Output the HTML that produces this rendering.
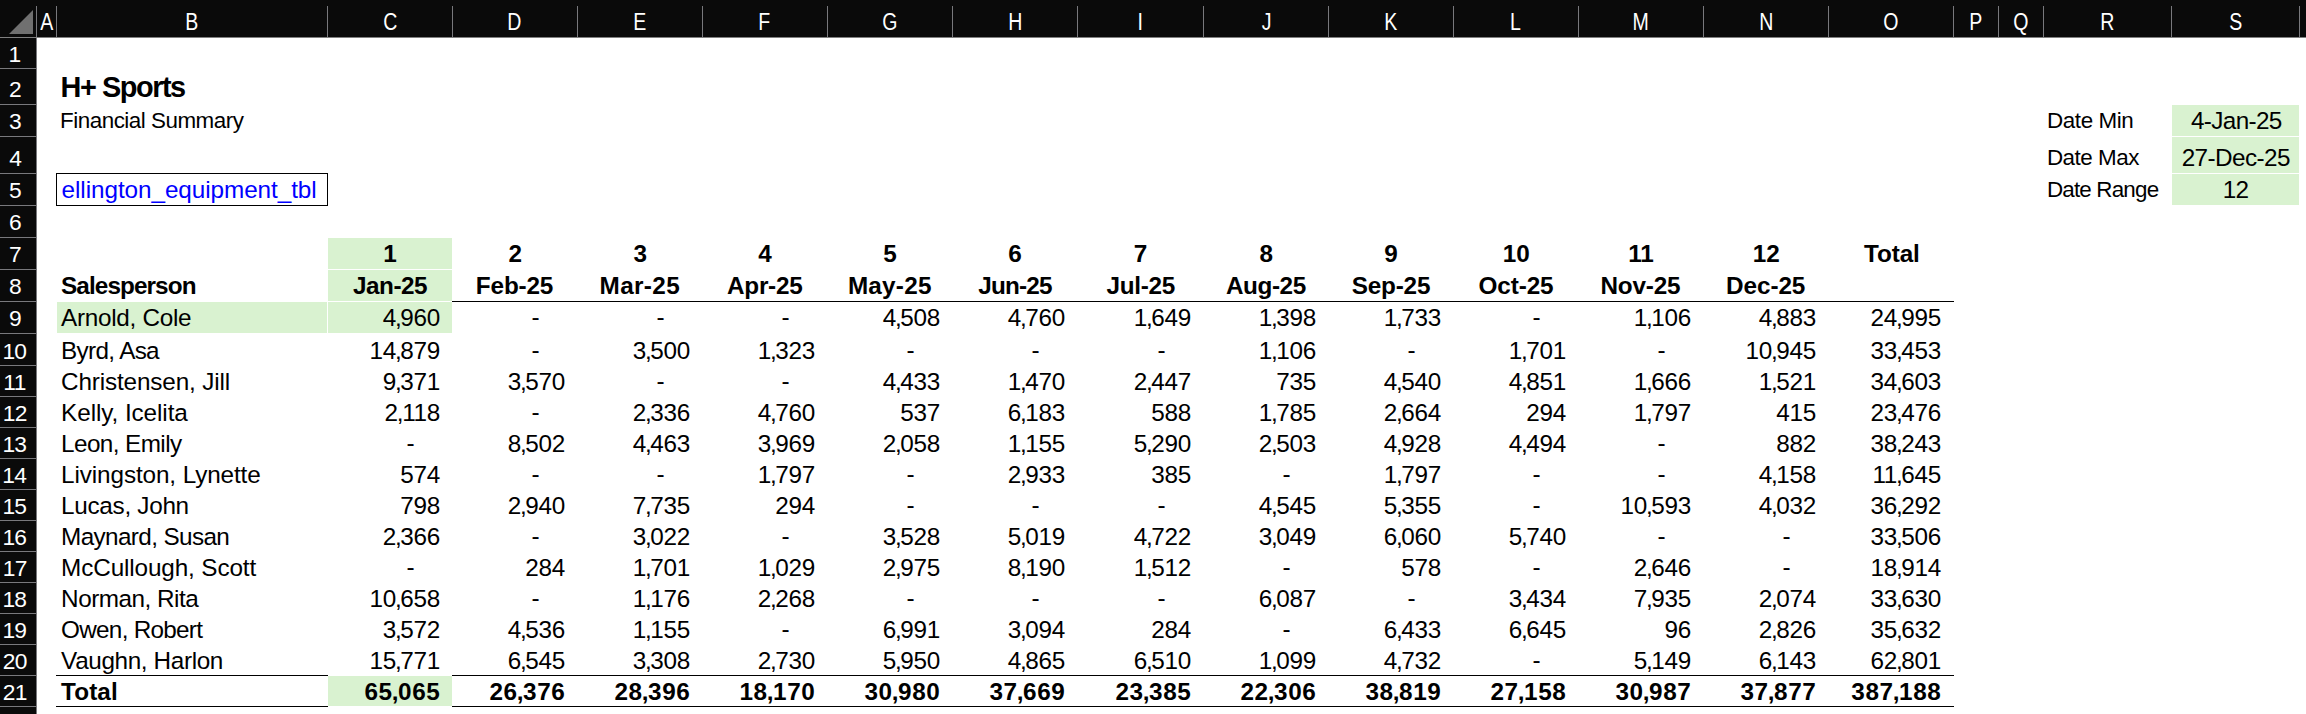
<!DOCTYPE html>
<html><head><meta charset="utf-8"><title>sheet</title>
<style>
html,body{margin:0;padding:0;background:#fff}
#s{position:relative;width:2306px;height:714px;overflow:hidden;background:#fff;font-family:"Liberation Sans",sans-serif;color:#000}
.r{position:absolute;box-sizing:border-box}
.t{position:absolute;white-space:nowrap;margin:0;padding:0}
.t i{font-style:normal;margin:0 -1.1px 0 -1px}
</style></head><body><div id="s">
<div class="r" style="left:0px;top:0px;width:2306px;height:37px;background:#0a0a0a"></div>
<div class="r" style="left:0px;top:37px;width:2306px;height:1px;background:#808080"></div>
<div class="r" style="left:0px;top:38px;width:36px;height:676px;background:#0a0a0a"></div>
<div class="r" style="left:36px;top:38px;width:1px;height:676px;background:#78787c"></div>
<div class="r" style="left:36px;top:6px;width:1px;height:31px;background:#78787c"></div>
<div class="r" style="left:56px;top:6px;width:1px;height:31px;background:#78787c"></div>
<div class="r" style="left:327px;top:6px;width:1px;height:31px;background:#78787c"></div>
<div class="r" style="left:452px;top:6px;width:1px;height:31px;background:#78787c"></div>
<div class="r" style="left:577px;top:6px;width:1px;height:31px;background:#78787c"></div>
<div class="r" style="left:702px;top:6px;width:1px;height:31px;background:#78787c"></div>
<div class="r" style="left:827px;top:6px;width:1px;height:31px;background:#78787c"></div>
<div class="r" style="left:952px;top:6px;width:1px;height:31px;background:#78787c"></div>
<div class="r" style="left:1077px;top:6px;width:1px;height:31px;background:#78787c"></div>
<div class="r" style="left:1203px;top:6px;width:1px;height:31px;background:#78787c"></div>
<div class="r" style="left:1328px;top:6px;width:1px;height:31px;background:#78787c"></div>
<div class="r" style="left:1453px;top:6px;width:1px;height:31px;background:#78787c"></div>
<div class="r" style="left:1578px;top:6px;width:1px;height:31px;background:#78787c"></div>
<div class="r" style="left:1703px;top:6px;width:1px;height:31px;background:#78787c"></div>
<div class="r" style="left:1828px;top:6px;width:1px;height:31px;background:#78787c"></div>
<div class="r" style="left:1953px;top:6px;width:1px;height:31px;background:#78787c"></div>
<div class="r" style="left:1998px;top:6px;width:1px;height:31px;background:#78787c"></div>
<div class="r" style="left:2043px;top:6px;width:1px;height:31px;background:#78787c"></div>
<div class="r" style="left:2171px;top:6px;width:1px;height:31px;background:#78787c"></div>
<div class="r" style="left:2299px;top:6px;width:1px;height:31px;background:#78787c"></div>
<div class="r" style="left:0px;top:68px;width:36px;height:1px;background:#78787c"></div>
<div class="r" style="left:0px;top:104px;width:36px;height:1px;background:#78787c"></div>
<div class="r" style="left:0px;top:136px;width:36px;height:1px;background:#78787c"></div>
<div class="r" style="left:0px;top:173px;width:36px;height:1px;background:#78787c"></div>
<div class="r" style="left:0px;top:205px;width:36px;height:1px;background:#78787c"></div>
<div class="r" style="left:0px;top:237px;width:36px;height:1px;background:#78787c"></div>
<div class="r" style="left:0px;top:269px;width:36px;height:1px;background:#78787c"></div>
<div class="r" style="left:0px;top:301px;width:36px;height:1px;background:#78787c"></div>
<div class="r" style="left:0px;top:333px;width:36px;height:1px;background:#78787c"></div>
<div class="r" style="left:0px;top:365px;width:36px;height:1px;background:#78787c"></div>
<div class="r" style="left:0px;top:396px;width:36px;height:1px;background:#78787c"></div>
<div class="r" style="left:0px;top:427px;width:36px;height:1px;background:#78787c"></div>
<div class="r" style="left:0px;top:458px;width:36px;height:1px;background:#78787c"></div>
<div class="r" style="left:0px;top:489px;width:36px;height:1px;background:#78787c"></div>
<div class="r" style="left:0px;top:520px;width:36px;height:1px;background:#78787c"></div>
<div class="r" style="left:0px;top:551px;width:36px;height:1px;background:#78787c"></div>
<div class="r" style="left:0px;top:582px;width:36px;height:1px;background:#78787c"></div>
<div class="r" style="left:0px;top:613px;width:36px;height:1px;background:#78787c"></div>
<div class="r" style="left:0px;top:644px;width:36px;height:1px;background:#78787c"></div>
<div class="r" style="left:0px;top:675px;width:36px;height:1px;background:#78787c"></div>
<div class="r" style="left:0px;top:706px;width:36px;height:1px;background:#78787c"></div>
<div class="r" style="left:0px;top:737px;width:36px;height:1px;background:#78787c"></div>
<svg class="r" style="left:0;top:0" width="37" height="37"><polygon points="33,10 33,34 9,34" fill="#707070"/></svg>
<div class="r" style="left:328px;top:238px;width:124px;height:31px;background:#d9f2d0"></div>
<div class="r" style="left:328px;top:270px;width:124px;height:31px;background:#d9f2d0"></div>
<div class="r" style="left:328px;top:302px;width:124px;height:31px;background:#d9f2d0"></div>
<div class="r" style="left:328px;top:676px;width:124px;height:30px;background:#d9f2d0"></div>
<div class="r" style="left:57px;top:302px;width:270px;height:31px;background:#d9f2d0"></div>
<div class="r" style="left:2172px;top:105px;width:127px;height:31px;background:#d9f2d0"></div>
<div class="r" style="left:2172px;top:137px;width:127px;height:36px;background:#d9f2d0"></div>
<div class="r" style="left:2172px;top:174px;width:127px;height:31px;background:#d9f2d0"></div>
<div class="r" style="left:452px;top:301px;width:1502px;height:1px;background:#000"></div>
<div class="r" style="left:56px;top:675px;width:272px;height:1px;background:#000"></div>
<div class="r" style="left:452px;top:675px;width:1502px;height:1px;background:#000"></div>
<div class="r" style="left:56px;top:706px;width:272px;height:1px;background:#000"></div>
<div class="r" style="left:452px;top:706px;width:1502px;height:1px;background:#000"></div>
<div class="r" style="left:56px;top:173px;width:272px;height:33px;border:1px solid #000"></div>
<div class="t" style="top:7.73px;font-size:23.0px;line-height:29px;transform:scaleX(0.85);transform-origin:7.61px 50%;left:38.89px;color:#fff;">A</div>
<div class="t" style="top:7.73px;font-size:23.0px;line-height:29px;transform:scaleX(0.85);transform-origin:8.04px 50%;left:183.96px;color:#fff;">B</div>
<div class="t" style="top:7.73px;font-size:23.0px;line-height:29px;transform:scaleX(0.85);transform-origin:8.48px 50%;left:381.52px;color:#fff;">C</div>
<div class="t" style="top:7.73px;font-size:23.0px;line-height:29px;transform:scaleX(0.85);transform-origin:8.92px 50%;left:506.08px;color:#fff;">D</div>
<div class="t" style="top:7.73px;font-size:23.0px;line-height:29px;transform:scaleX(0.85);transform-origin:8.42px 50%;left:631.58px;color:#fff;">E</div>
<div class="t" style="top:7.73px;font-size:23.0px;line-height:29px;transform:scaleX(0.85);transform-origin:7.54px 50%;left:757.46px;color:#fff;">F</div>
<div class="t" style="top:7.73px;font-size:23.0px;line-height:29px;transform:scaleX(0.85);transform-origin:8.62px 50%;left:881.38px;color:#fff;">G</div>
<div class="t" style="top:7.73px;font-size:23.0px;line-height:29px;transform:scaleX(0.85);transform-origin:8.45px 50%;left:1006.55px;color:#fff;">H</div>
<div class="t" style="top:7.73px;font-size:23.0px;line-height:29px;transform:scaleX(0.85);transform-origin:3.15px 50%;left:1137.35px;color:#fff;">I</div>
<div class="t" style="top:7.73px;font-size:23.0px;line-height:29px;transform:scaleX(0.85);transform-origin:5.37px 50%;left:1260.63px;color:#fff;">J</div>
<div class="t" style="top:7.73px;font-size:23.0px;line-height:29px;transform:scaleX(0.85);transform-origin:8.45px 50%;left:1382.55px;color:#fff;">K</div>
<div class="t" style="top:7.73px;font-size:23.0px;line-height:29px;transform:scaleX(0.85);transform-origin:7.01px 50%;left:1508.99px;color:#fff;">L</div>
<div class="t" style="top:7.73px;font-size:23.0px;line-height:29px;transform:scaleX(0.85);transform-origin:9.60px 50%;left:1631.40px;color:#fff;">M</div>
<div class="t" style="top:7.73px;font-size:23.0px;line-height:29px;transform:scaleX(0.85);transform-origin:8.45px 50%;left:1757.55px;color:#fff;">N</div>
<div class="t" style="top:7.73px;font-size:23.0px;line-height:29px;transform:scaleX(0.85);transform-origin:9.00px 50%;left:1882.00px;color:#fff;">O</div>
<div class="t" style="top:7.73px;font-size:23.0px;line-height:29px;transform:scaleX(0.85);transform-origin:8.04px 50%;left:1967.96px;color:#fff;">P</div>
<div class="t" style="top:7.73px;font-size:23.0px;line-height:29px;transform:scaleX(0.85);transform-origin:9.00px 50%;left:2012.00px;color:#fff;">Q</div>
<div class="t" style="top:7.73px;font-size:23.0px;line-height:29px;transform:scaleX(0.85);transform-origin:8.59px 50%;left:2098.91px;color:#fff;">R</div>
<div class="t" style="top:7.73px;font-size:23.0px;line-height:29px;transform:scaleX(0.85);transform-origin:7.66px 50%;left:2227.84px;color:#fff;">S</div>
<div class="t" style="top:40.10px;font-size:22.8px;line-height:28px;left:8.52px;letter-spacing:-0.700px;color:#fff;">1</div>
<div class="t" style="top:75.10px;font-size:22.8px;line-height:28px;left:8.92px;letter-spacing:-0.700px;color:#fff;">2</div>
<div class="t" style="top:107.10px;font-size:22.8px;line-height:28px;left:8.93px;letter-spacing:-0.700px;color:#fff;">3</div>
<div class="t" style="top:144.10px;font-size:22.8px;line-height:28px;left:9.31px;letter-spacing:-0.700px;color:#fff;">4</div>
<div class="t" style="top:176.10px;font-size:22.8px;line-height:28px;left:8.91px;letter-spacing:-0.700px;color:#fff;">5</div>
<div class="t" style="top:208.10px;font-size:22.8px;line-height:28px;left:8.92px;letter-spacing:-0.700px;color:#fff;">6</div>
<div class="t" style="top:240.10px;font-size:22.8px;line-height:28px;left:8.92px;letter-spacing:-0.700px;color:#fff;">7</div>
<div class="t" style="top:272.10px;font-size:22.8px;line-height:28px;left:8.93px;letter-spacing:-0.700px;color:#fff;">8</div>
<div class="t" style="top:304.10px;font-size:22.8px;line-height:28px;left:8.93px;letter-spacing:-0.700px;color:#fff;">9</div>
<div class="t" style="top:337.10px;font-size:22.8px;line-height:28px;left:2.38px;letter-spacing:-0.700px;color:#fff;">10</div>
<div class="t" style="top:368.10px;font-size:22.8px;line-height:28px;left:3.37px;letter-spacing:-0.700px;color:#fff;">11</div>
<div class="t" style="top:399.10px;font-size:22.8px;line-height:28px;left:2.69px;letter-spacing:-0.700px;color:#fff;">12</div>
<div class="t" style="top:430.10px;font-size:22.8px;line-height:28px;left:2.38px;letter-spacing:-0.700px;color:#fff;">13</div>
<div class="t" style="top:461.10px;font-size:22.8px;line-height:28px;left:2.35px;letter-spacing:-0.700px;color:#fff;">14</div>
<div class="t" style="top:492.10px;font-size:22.8px;line-height:28px;left:2.38px;letter-spacing:-0.700px;color:#fff;">15</div>
<div class="t" style="top:523.10px;font-size:22.8px;line-height:28px;left:2.38px;letter-spacing:-0.700px;color:#fff;">16</div>
<div class="t" style="top:554.10px;font-size:22.8px;line-height:28px;left:2.69px;letter-spacing:-0.700px;color:#fff;">17</div>
<div class="t" style="top:585.10px;font-size:22.8px;line-height:28px;left:2.38px;letter-spacing:-0.700px;color:#fff;">18</div>
<div class="t" style="top:616.10px;font-size:22.8px;line-height:28px;left:2.38px;letter-spacing:-0.700px;color:#fff;">19</div>
<div class="t" style="top:647.10px;font-size:22.8px;line-height:28px;left:2.78px;letter-spacing:-0.700px;color:#fff;">20</div>
<div class="t" style="top:678.10px;font-size:22.8px;line-height:28px;left:2.78px;letter-spacing:-0.700px;color:#fff;">21</div>
<div class="t" style="top:68.99px;font-size:28.9px;line-height:36px;left:60.62px;letter-spacing:-1.468px;font-weight:bold;">H+ Sports</div>
<div class="t" style="top:107.24px;font-size:22.4px;line-height:28px;left:60.10px;letter-spacing:-0.488px;">Financial Summary</div>
<div class="t" style="top:174.58px;font-size:24.3px;line-height:30px;left:61.59px;letter-spacing:-0.071px;color:#0000ff;">ellington_equipment_tbl</div>
<div class="t" style="top:107.24px;font-size:22.4px;line-height:28px;left:2047.10px;letter-spacing:-0.437px;">Date Min</div>
<div class="t" style="top:144.24px;font-size:22.4px;line-height:28px;left:2046.90px;letter-spacing:-0.464px;">Date Max</div>
<div class="t" style="top:176.24px;font-size:22.4px;line-height:28px;left:2046.90px;letter-spacing:-0.812px;">Date Range</div>
<div class="t" style="top:105.58px;font-size:24.3px;line-height:30px;left:2190.95px;letter-spacing:-0.636px;">4-Jan-25</div>
<div class="t" style="top:142.58px;font-size:24.3px;line-height:30px;left:2181.64px;letter-spacing:-0.581px;">27-Dec-25</div>
<div class="t" style="top:174.58px;font-size:24.3px;line-height:30px;left:2222.76px;letter-spacing:-0.800px;">12</div>
<div class="t" style="top:238.58px;font-size:24.3px;line-height:30px;left:383.25px;font-weight:bold;">1</div>
<div class="t" style="top:270.58px;font-size:24.3px;line-height:30px;left:353.00px;letter-spacing:-0.481px;font-weight:bold;">Jan-25</div>
<div class="t" style="top:238.58px;font-size:24.3px;line-height:30px;left:508.39px;font-weight:bold;">2</div>
<div class="t" style="top:270.58px;font-size:24.3px;line-height:30px;left:475.84px;letter-spacing:-0.152px;font-weight:bold;">Feb-25</div>
<div class="t" style="top:238.58px;font-size:24.3px;line-height:30px;left:633.42px;font-weight:bold;">3</div>
<div class="t" style="top:270.58px;font-size:24.3px;line-height:30px;left:599.59px;letter-spacing:0.348px;font-weight:bold;">Mar-25</div>
<div class="t" style="top:238.58px;font-size:24.3px;line-height:30px;left:758.30px;font-weight:bold;">4</div>
<div class="t" style="top:270.58px;font-size:24.3px;line-height:30px;left:727.08px;letter-spacing:-0.266px;font-weight:bold;">Apr-25</div>
<div class="t" style="top:238.58px;font-size:24.3px;line-height:30px;left:883.34px;font-weight:bold;">5</div>
<div class="t" style="top:270.58px;font-size:24.3px;line-height:30px;left:847.89px;letter-spacing:0.228px;font-weight:bold;">May-25</div>
<div class="t" style="top:238.58px;font-size:24.3px;line-height:30px;left:1008.36px;font-weight:bold;">6</div>
<div class="t" style="top:270.58px;font-size:24.3px;line-height:30px;left:978.35px;letter-spacing:-0.825px;font-weight:bold;">Jun-25</div>
<div class="t" style="top:238.58px;font-size:24.3px;line-height:30px;left:1133.84px;font-weight:bold;">7</div>
<div class="t" style="top:270.58px;font-size:24.3px;line-height:30px;left:1106.50px;letter-spacing:-0.285px;font-weight:bold;">Jul-25</div>
<div class="t" style="top:238.58px;font-size:24.3px;line-height:30px;left:1259.38px;font-weight:bold;">8</div>
<div class="t" style="top:270.58px;font-size:24.3px;line-height:30px;left:1225.98px;letter-spacing:-0.430px;font-weight:bold;">Aug-25</div>
<div class="t" style="top:238.58px;font-size:24.3px;line-height:30px;left:1384.37px;font-weight:bold;">9</div>
<div class="t" style="top:270.58px;font-size:24.3px;line-height:30px;left:1351.72px;letter-spacing:-0.187px;font-weight:bold;">Sep-25</div>
<div class="t" style="top:238.58px;font-size:24.3px;line-height:30px;left:1502.72px;font-weight:bold;">10</div>
<div class="t" style="top:270.58px;font-size:24.3px;line-height:30px;left:1478.59px;letter-spacing:-0.114px;font-weight:bold;">Oct-25</div>
<div class="t" style="top:238.58px;font-size:24.3px;line-height:30px;left:1628.18px;font-weight:bold;">11</div>
<div class="t" style="top:270.58px;font-size:24.3px;line-height:30px;left:1600.44px;letter-spacing:-0.188px;font-weight:bold;">Nov-25</div>
<div class="t" style="top:238.58px;font-size:24.3px;line-height:30px;left:1752.71px;font-weight:bold;">12</div>
<div class="t" style="top:270.58px;font-size:24.3px;line-height:30px;left:1726.04px;letter-spacing:-0.071px;font-weight:bold;">Dec-25</div>
<div class="t" style="top:238.58px;font-size:24.3px;line-height:30px;left:1863.99px;letter-spacing:-0.089px;font-weight:bold;">Total</div>
<div class="t" style="top:270.58px;font-size:24.3px;line-height:30px;left:61.02px;letter-spacing:-0.903px;font-weight:bold;">Salesperson</div>
<div class="t" style="top:302.58px;font-size:24.3px;line-height:30px;left:61.10px;letter-spacing:-0.294px;">Arnold, Cole</div>
<div class="t" style="top:302.58px;font-size:24.3px;line-height:30px;right:1866.00px;letter-spacing:-0.300px;">4<i>,</i>960</div>
<div class="t" style="top:301.58px;font-size:24.3px;line-height:30px;left:531.49px;">-</div>
<div class="t" style="top:301.58px;font-size:24.3px;line-height:30px;left:656.49px;">-</div>
<div class="t" style="top:301.58px;font-size:24.3px;line-height:30px;left:781.49px;">-</div>
<div class="t" style="top:302.58px;font-size:24.3px;line-height:30px;right:1366.00px;letter-spacing:-0.300px;">4<i>,</i>508</div>
<div class="t" style="top:302.58px;font-size:24.3px;line-height:30px;right:1241.00px;letter-spacing:-0.300px;">4<i>,</i>760</div>
<div class="t" style="top:302.58px;font-size:24.3px;line-height:30px;right:1115.00px;letter-spacing:-0.300px;">1<i>,</i>649</div>
<div class="t" style="top:302.58px;font-size:24.3px;line-height:30px;right:990.00px;letter-spacing:-0.300px;">1<i>,</i>398</div>
<div class="t" style="top:302.58px;font-size:24.3px;line-height:30px;right:865.00px;letter-spacing:-0.300px;">1<i>,</i>733</div>
<div class="t" style="top:301.58px;font-size:24.3px;line-height:30px;left:1532.49px;">-</div>
<div class="t" style="top:302.58px;font-size:24.3px;line-height:30px;right:615.00px;letter-spacing:-0.300px;">1<i>,</i>106</div>
<div class="t" style="top:302.58px;font-size:24.3px;line-height:30px;right:490.00px;letter-spacing:-0.300px;">4<i>,</i>883</div>
<div class="t" style="top:302.58px;font-size:24.3px;line-height:30px;right:365.00px;letter-spacing:-0.300px;">24<i>,</i>995</div>
<div class="t" style="top:335.58px;font-size:24.3px;line-height:30px;left:61.10px;letter-spacing:-0.681px;">Byrd, Asa</div>
<div class="t" style="top:335.58px;font-size:24.3px;line-height:30px;right:1866.00px;letter-spacing:-0.300px;">14<i>,</i>879</div>
<div class="t" style="top:334.58px;font-size:24.3px;line-height:30px;left:531.49px;">-</div>
<div class="t" style="top:335.58px;font-size:24.3px;line-height:30px;right:1616.00px;letter-spacing:-0.300px;">3<i>,</i>500</div>
<div class="t" style="top:335.58px;font-size:24.3px;line-height:30px;right:1491.00px;letter-spacing:-0.300px;">1<i>,</i>323</div>
<div class="t" style="top:334.58px;font-size:24.3px;line-height:30px;left:906.49px;">-</div>
<div class="t" style="top:334.58px;font-size:24.3px;line-height:30px;left:1031.49px;">-</div>
<div class="t" style="top:334.58px;font-size:24.3px;line-height:30px;left:1157.49px;">-</div>
<div class="t" style="top:335.58px;font-size:24.3px;line-height:30px;right:990.00px;letter-spacing:-0.300px;">1<i>,</i>106</div>
<div class="t" style="top:334.58px;font-size:24.3px;line-height:30px;left:1407.49px;">-</div>
<div class="t" style="top:335.58px;font-size:24.3px;line-height:30px;right:740.00px;letter-spacing:-0.300px;">1<i>,</i>701</div>
<div class="t" style="top:334.58px;font-size:24.3px;line-height:30px;left:1657.49px;">-</div>
<div class="t" style="top:335.58px;font-size:24.3px;line-height:30px;right:490.00px;letter-spacing:-0.300px;">10<i>,</i>945</div>
<div class="t" style="top:335.58px;font-size:24.3px;line-height:30px;right:365.00px;letter-spacing:-0.300px;">33<i>,</i>453</div>
<div class="t" style="top:366.58px;font-size:24.3px;line-height:30px;left:61.10px;letter-spacing:-0.154px;">Christensen, Jill</div>
<div class="t" style="top:366.58px;font-size:24.3px;line-height:30px;right:1866.00px;letter-spacing:-0.300px;">9<i>,</i>371</div>
<div class="t" style="top:366.58px;font-size:24.3px;line-height:30px;right:1741.00px;letter-spacing:-0.300px;">3<i>,</i>570</div>
<div class="t" style="top:365.58px;font-size:24.3px;line-height:30px;left:656.49px;">-</div>
<div class="t" style="top:365.58px;font-size:24.3px;line-height:30px;left:781.49px;">-</div>
<div class="t" style="top:366.58px;font-size:24.3px;line-height:30px;right:1366.00px;letter-spacing:-0.300px;">4<i>,</i>433</div>
<div class="t" style="top:366.58px;font-size:24.3px;line-height:30px;right:1241.00px;letter-spacing:-0.300px;">1<i>,</i>470</div>
<div class="t" style="top:366.58px;font-size:24.3px;line-height:30px;right:1115.00px;letter-spacing:-0.300px;">2<i>,</i>447</div>
<div class="t" style="top:366.58px;font-size:24.3px;line-height:30px;right:990.00px;letter-spacing:-0.300px;">735</div>
<div class="t" style="top:366.58px;font-size:24.3px;line-height:30px;right:865.00px;letter-spacing:-0.300px;">4<i>,</i>540</div>
<div class="t" style="top:366.58px;font-size:24.3px;line-height:30px;right:740.00px;letter-spacing:-0.300px;">4<i>,</i>851</div>
<div class="t" style="top:366.58px;font-size:24.3px;line-height:30px;right:615.00px;letter-spacing:-0.300px;">1<i>,</i>666</div>
<div class="t" style="top:366.58px;font-size:24.3px;line-height:30px;right:490.00px;letter-spacing:-0.300px;">1<i>,</i>521</div>
<div class="t" style="top:366.58px;font-size:24.3px;line-height:30px;right:365.00px;letter-spacing:-0.300px;">34<i>,</i>603</div>
<div class="t" style="top:397.58px;font-size:24.3px;line-height:30px;left:61.10px;letter-spacing:-0.081px;">Kelly, Icelita</div>
<div class="t" style="top:397.58px;font-size:24.3px;line-height:30px;right:1866.00px;letter-spacing:-0.300px;">2<i>,</i>118</div>
<div class="t" style="top:396.58px;font-size:24.3px;line-height:30px;left:531.49px;">-</div>
<div class="t" style="top:397.58px;font-size:24.3px;line-height:30px;right:1616.00px;letter-spacing:-0.300px;">2<i>,</i>336</div>
<div class="t" style="top:397.58px;font-size:24.3px;line-height:30px;right:1491.00px;letter-spacing:-0.300px;">4<i>,</i>760</div>
<div class="t" style="top:397.58px;font-size:24.3px;line-height:30px;right:1366.00px;letter-spacing:-0.300px;">537</div>
<div class="t" style="top:397.58px;font-size:24.3px;line-height:30px;right:1241.00px;letter-spacing:-0.300px;">6<i>,</i>183</div>
<div class="t" style="top:397.58px;font-size:24.3px;line-height:30px;right:1115.00px;letter-spacing:-0.300px;">588</div>
<div class="t" style="top:397.58px;font-size:24.3px;line-height:30px;right:990.00px;letter-spacing:-0.300px;">1<i>,</i>785</div>
<div class="t" style="top:397.58px;font-size:24.3px;line-height:30px;right:865.00px;letter-spacing:-0.300px;">2<i>,</i>664</div>
<div class="t" style="top:397.58px;font-size:24.3px;line-height:30px;right:740.00px;letter-spacing:-0.300px;">294</div>
<div class="t" style="top:397.58px;font-size:24.3px;line-height:30px;right:615.00px;letter-spacing:-0.300px;">1<i>,</i>797</div>
<div class="t" style="top:397.58px;font-size:24.3px;line-height:30px;right:490.00px;letter-spacing:-0.300px;">415</div>
<div class="t" style="top:397.58px;font-size:24.3px;line-height:30px;right:365.00px;letter-spacing:-0.300px;">23<i>,</i>476</div>
<div class="t" style="top:428.58px;font-size:24.3px;line-height:30px;left:61.10px;letter-spacing:-0.594px;">Leon, Emily</div>
<div class="t" style="top:427.58px;font-size:24.3px;line-height:30px;left:406.49px;">-</div>
<div class="t" style="top:428.58px;font-size:24.3px;line-height:30px;right:1741.00px;letter-spacing:-0.300px;">8<i>,</i>502</div>
<div class="t" style="top:428.58px;font-size:24.3px;line-height:30px;right:1616.00px;letter-spacing:-0.300px;">4<i>,</i>463</div>
<div class="t" style="top:428.58px;font-size:24.3px;line-height:30px;right:1491.00px;letter-spacing:-0.300px;">3<i>,</i>969</div>
<div class="t" style="top:428.58px;font-size:24.3px;line-height:30px;right:1366.00px;letter-spacing:-0.300px;">2<i>,</i>058</div>
<div class="t" style="top:428.58px;font-size:24.3px;line-height:30px;right:1241.00px;letter-spacing:-0.300px;">1<i>,</i>155</div>
<div class="t" style="top:428.58px;font-size:24.3px;line-height:30px;right:1115.00px;letter-spacing:-0.300px;">5<i>,</i>290</div>
<div class="t" style="top:428.58px;font-size:24.3px;line-height:30px;right:990.00px;letter-spacing:-0.300px;">2<i>,</i>503</div>
<div class="t" style="top:428.58px;font-size:24.3px;line-height:30px;right:865.00px;letter-spacing:-0.300px;">4<i>,</i>928</div>
<div class="t" style="top:428.58px;font-size:24.3px;line-height:30px;right:740.00px;letter-spacing:-0.300px;">4<i>,</i>494</div>
<div class="t" style="top:427.58px;font-size:24.3px;line-height:30px;left:1657.49px;">-</div>
<div class="t" style="top:428.58px;font-size:24.3px;line-height:30px;right:490.00px;letter-spacing:-0.300px;">882</div>
<div class="t" style="top:428.58px;font-size:24.3px;line-height:30px;right:365.00px;letter-spacing:-0.300px;">38<i>,</i>243</div>
<div class="t" style="top:459.58px;font-size:24.3px;line-height:30px;left:61.10px;letter-spacing:-0.113px;">Livingston, Lynette</div>
<div class="t" style="top:459.58px;font-size:24.3px;line-height:30px;right:1866.00px;letter-spacing:-0.300px;">574</div>
<div class="t" style="top:458.58px;font-size:24.3px;line-height:30px;left:531.49px;">-</div>
<div class="t" style="top:458.58px;font-size:24.3px;line-height:30px;left:656.49px;">-</div>
<div class="t" style="top:459.58px;font-size:24.3px;line-height:30px;right:1491.00px;letter-spacing:-0.300px;">1<i>,</i>797</div>
<div class="t" style="top:458.58px;font-size:24.3px;line-height:30px;left:906.49px;">-</div>
<div class="t" style="top:459.58px;font-size:24.3px;line-height:30px;right:1241.00px;letter-spacing:-0.300px;">2<i>,</i>933</div>
<div class="t" style="top:459.58px;font-size:24.3px;line-height:30px;right:1115.00px;letter-spacing:-0.300px;">385</div>
<div class="t" style="top:458.58px;font-size:24.3px;line-height:30px;left:1282.49px;">-</div>
<div class="t" style="top:459.58px;font-size:24.3px;line-height:30px;right:865.00px;letter-spacing:-0.300px;">1<i>,</i>797</div>
<div class="t" style="top:458.58px;font-size:24.3px;line-height:30px;left:1532.49px;">-</div>
<div class="t" style="top:458.58px;font-size:24.3px;line-height:30px;left:1657.49px;">-</div>
<div class="t" style="top:459.58px;font-size:24.3px;line-height:30px;right:490.00px;letter-spacing:-0.300px;">4<i>,</i>158</div>
<div class="t" style="top:459.58px;font-size:24.3px;line-height:30px;right:365.00px;letter-spacing:-0.300px;">11<i>,</i>645</div>
<div class="t" style="top:490.58px;font-size:24.3px;line-height:30px;left:61.10px;letter-spacing:-0.301px;">Lucas, John</div>
<div class="t" style="top:490.58px;font-size:24.3px;line-height:30px;right:1866.00px;letter-spacing:-0.300px;">798</div>
<div class="t" style="top:490.58px;font-size:24.3px;line-height:30px;right:1741.00px;letter-spacing:-0.300px;">2<i>,</i>940</div>
<div class="t" style="top:490.58px;font-size:24.3px;line-height:30px;right:1616.00px;letter-spacing:-0.300px;">7<i>,</i>735</div>
<div class="t" style="top:490.58px;font-size:24.3px;line-height:30px;right:1491.00px;letter-spacing:-0.300px;">294</div>
<div class="t" style="top:489.58px;font-size:24.3px;line-height:30px;left:906.49px;">-</div>
<div class="t" style="top:489.58px;font-size:24.3px;line-height:30px;left:1031.49px;">-</div>
<div class="t" style="top:489.58px;font-size:24.3px;line-height:30px;left:1157.49px;">-</div>
<div class="t" style="top:490.58px;font-size:24.3px;line-height:30px;right:990.00px;letter-spacing:-0.300px;">4<i>,</i>545</div>
<div class="t" style="top:490.58px;font-size:24.3px;line-height:30px;right:865.00px;letter-spacing:-0.300px;">5<i>,</i>355</div>
<div class="t" style="top:489.58px;font-size:24.3px;line-height:30px;left:1532.49px;">-</div>
<div class="t" style="top:490.58px;font-size:24.3px;line-height:30px;right:615.00px;letter-spacing:-0.300px;">10<i>,</i>593</div>
<div class="t" style="top:490.58px;font-size:24.3px;line-height:30px;right:490.00px;letter-spacing:-0.300px;">4<i>,</i>032</div>
<div class="t" style="top:490.58px;font-size:24.3px;line-height:30px;right:365.00px;letter-spacing:-0.300px;">36<i>,</i>292</div>
<div class="t" style="top:521.58px;font-size:24.3px;line-height:30px;left:61.10px;letter-spacing:-0.631px;">Maynard, Susan</div>
<div class="t" style="top:521.58px;font-size:24.3px;line-height:30px;right:1866.00px;letter-spacing:-0.300px;">2<i>,</i>366</div>
<div class="t" style="top:520.58px;font-size:24.3px;line-height:30px;left:531.49px;">-</div>
<div class="t" style="top:521.58px;font-size:24.3px;line-height:30px;right:1616.00px;letter-spacing:-0.300px;">3<i>,</i>022</div>
<div class="t" style="top:520.58px;font-size:24.3px;line-height:30px;left:781.49px;">-</div>
<div class="t" style="top:521.58px;font-size:24.3px;line-height:30px;right:1366.00px;letter-spacing:-0.300px;">3<i>,</i>528</div>
<div class="t" style="top:521.58px;font-size:24.3px;line-height:30px;right:1241.00px;letter-spacing:-0.300px;">5<i>,</i>019</div>
<div class="t" style="top:521.58px;font-size:24.3px;line-height:30px;right:1115.00px;letter-spacing:-0.300px;">4<i>,</i>722</div>
<div class="t" style="top:521.58px;font-size:24.3px;line-height:30px;right:990.00px;letter-spacing:-0.300px;">3<i>,</i>049</div>
<div class="t" style="top:521.58px;font-size:24.3px;line-height:30px;right:865.00px;letter-spacing:-0.300px;">6<i>,</i>060</div>
<div class="t" style="top:521.58px;font-size:24.3px;line-height:30px;right:740.00px;letter-spacing:-0.300px;">5<i>,</i>740</div>
<div class="t" style="top:520.58px;font-size:24.3px;line-height:30px;left:1657.49px;">-</div>
<div class="t" style="top:520.58px;font-size:24.3px;line-height:30px;left:1782.49px;">-</div>
<div class="t" style="top:521.58px;font-size:24.3px;line-height:30px;right:365.00px;letter-spacing:-0.300px;">33<i>,</i>506</div>
<div class="t" style="top:552.58px;font-size:24.3px;line-height:30px;left:61.10px;letter-spacing:-0.130px;">McCullough, Scott</div>
<div class="t" style="top:551.58px;font-size:24.3px;line-height:30px;left:406.49px;">-</div>
<div class="t" style="top:552.58px;font-size:24.3px;line-height:30px;right:1741.00px;letter-spacing:-0.300px;">284</div>
<div class="t" style="top:552.58px;font-size:24.3px;line-height:30px;right:1616.00px;letter-spacing:-0.300px;">1<i>,</i>701</div>
<div class="t" style="top:552.58px;font-size:24.3px;line-height:30px;right:1491.00px;letter-spacing:-0.300px;">1<i>,</i>029</div>
<div class="t" style="top:552.58px;font-size:24.3px;line-height:30px;right:1366.00px;letter-spacing:-0.300px;">2<i>,</i>975</div>
<div class="t" style="top:552.58px;font-size:24.3px;line-height:30px;right:1241.00px;letter-spacing:-0.300px;">8<i>,</i>190</div>
<div class="t" style="top:552.58px;font-size:24.3px;line-height:30px;right:1115.00px;letter-spacing:-0.300px;">1<i>,</i>512</div>
<div class="t" style="top:551.58px;font-size:24.3px;line-height:30px;left:1282.49px;">-</div>
<div class="t" style="top:552.58px;font-size:24.3px;line-height:30px;right:865.00px;letter-spacing:-0.300px;">578</div>
<div class="t" style="top:551.58px;font-size:24.3px;line-height:30px;left:1532.49px;">-</div>
<div class="t" style="top:552.58px;font-size:24.3px;line-height:30px;right:615.00px;letter-spacing:-0.300px;">2<i>,</i>646</div>
<div class="t" style="top:551.58px;font-size:24.3px;line-height:30px;left:1782.49px;">-</div>
<div class="t" style="top:552.58px;font-size:24.3px;line-height:30px;right:365.00px;letter-spacing:-0.300px;">18<i>,</i>914</div>
<div class="t" style="top:583.58px;font-size:24.3px;line-height:30px;left:61.10px;letter-spacing:-0.504px;">Norman, Rita</div>
<div class="t" style="top:583.58px;font-size:24.3px;line-height:30px;right:1866.00px;letter-spacing:-0.300px;">10<i>,</i>658</div>
<div class="t" style="top:582.58px;font-size:24.3px;line-height:30px;left:531.49px;">-</div>
<div class="t" style="top:583.58px;font-size:24.3px;line-height:30px;right:1616.00px;letter-spacing:-0.300px;">1<i>,</i>176</div>
<div class="t" style="top:583.58px;font-size:24.3px;line-height:30px;right:1491.00px;letter-spacing:-0.300px;">2<i>,</i>268</div>
<div class="t" style="top:582.58px;font-size:24.3px;line-height:30px;left:906.49px;">-</div>
<div class="t" style="top:582.58px;font-size:24.3px;line-height:30px;left:1031.49px;">-</div>
<div class="t" style="top:582.58px;font-size:24.3px;line-height:30px;left:1157.49px;">-</div>
<div class="t" style="top:583.58px;font-size:24.3px;line-height:30px;right:990.00px;letter-spacing:-0.300px;">6<i>,</i>087</div>
<div class="t" style="top:582.58px;font-size:24.3px;line-height:30px;left:1407.49px;">-</div>
<div class="t" style="top:583.58px;font-size:24.3px;line-height:30px;right:740.00px;letter-spacing:-0.300px;">3<i>,</i>434</div>
<div class="t" style="top:583.58px;font-size:24.3px;line-height:30px;right:615.00px;letter-spacing:-0.300px;">7<i>,</i>935</div>
<div class="t" style="top:583.58px;font-size:24.3px;line-height:30px;right:490.00px;letter-spacing:-0.300px;">2<i>,</i>074</div>
<div class="t" style="top:583.58px;font-size:24.3px;line-height:30px;right:365.00px;letter-spacing:-0.300px;">33<i>,</i>630</div>
<div class="t" style="top:614.58px;font-size:24.3px;line-height:30px;left:61.10px;letter-spacing:-0.733px;">Owen, Robert</div>
<div class="t" style="top:614.58px;font-size:24.3px;line-height:30px;right:1866.00px;letter-spacing:-0.300px;">3<i>,</i>572</div>
<div class="t" style="top:614.58px;font-size:24.3px;line-height:30px;right:1741.00px;letter-spacing:-0.300px;">4<i>,</i>536</div>
<div class="t" style="top:614.58px;font-size:24.3px;line-height:30px;right:1616.00px;letter-spacing:-0.300px;">1<i>,</i>155</div>
<div class="t" style="top:613.58px;font-size:24.3px;line-height:30px;left:781.49px;">-</div>
<div class="t" style="top:614.58px;font-size:24.3px;line-height:30px;right:1366.00px;letter-spacing:-0.300px;">6<i>,</i>991</div>
<div class="t" style="top:614.58px;font-size:24.3px;line-height:30px;right:1241.00px;letter-spacing:-0.300px;">3<i>,</i>094</div>
<div class="t" style="top:614.58px;font-size:24.3px;line-height:30px;right:1115.00px;letter-spacing:-0.300px;">284</div>
<div class="t" style="top:613.58px;font-size:24.3px;line-height:30px;left:1282.49px;">-</div>
<div class="t" style="top:614.58px;font-size:24.3px;line-height:30px;right:865.00px;letter-spacing:-0.300px;">6<i>,</i>433</div>
<div class="t" style="top:614.58px;font-size:24.3px;line-height:30px;right:740.00px;letter-spacing:-0.300px;">6<i>,</i>645</div>
<div class="t" style="top:614.58px;font-size:24.3px;line-height:30px;right:615.00px;letter-spacing:-0.300px;">96</div>
<div class="t" style="top:614.58px;font-size:24.3px;line-height:30px;right:490.00px;letter-spacing:-0.300px;">2<i>,</i>826</div>
<div class="t" style="top:614.58px;font-size:24.3px;line-height:30px;right:365.00px;letter-spacing:-0.300px;">35<i>,</i>632</div>
<div class="t" style="top:645.58px;font-size:24.3px;line-height:30px;left:61.10px;letter-spacing:-0.370px;">Vaughn, Harlon</div>
<div class="t" style="top:645.58px;font-size:24.3px;line-height:30px;right:1866.00px;letter-spacing:-0.300px;">15<i>,</i>771</div>
<div class="t" style="top:645.58px;font-size:24.3px;line-height:30px;right:1741.00px;letter-spacing:-0.300px;">6<i>,</i>545</div>
<div class="t" style="top:645.58px;font-size:24.3px;line-height:30px;right:1616.00px;letter-spacing:-0.300px;">3<i>,</i>308</div>
<div class="t" style="top:645.58px;font-size:24.3px;line-height:30px;right:1491.00px;letter-spacing:-0.300px;">2<i>,</i>730</div>
<div class="t" style="top:645.58px;font-size:24.3px;line-height:30px;right:1366.00px;letter-spacing:-0.300px;">5<i>,</i>950</div>
<div class="t" style="top:645.58px;font-size:24.3px;line-height:30px;right:1241.00px;letter-spacing:-0.300px;">4<i>,</i>865</div>
<div class="t" style="top:645.58px;font-size:24.3px;line-height:30px;right:1115.00px;letter-spacing:-0.300px;">6<i>,</i>510</div>
<div class="t" style="top:645.58px;font-size:24.3px;line-height:30px;right:990.00px;letter-spacing:-0.300px;">1<i>,</i>099</div>
<div class="t" style="top:645.58px;font-size:24.3px;line-height:30px;right:865.00px;letter-spacing:-0.300px;">4<i>,</i>732</div>
<div class="t" style="top:644.58px;font-size:24.3px;line-height:30px;left:1532.49px;">-</div>
<div class="t" style="top:645.58px;font-size:24.3px;line-height:30px;right:615.00px;letter-spacing:-0.300px;">5<i>,</i>149</div>
<div class="t" style="top:645.58px;font-size:24.3px;line-height:30px;right:490.00px;letter-spacing:-0.300px;">6<i>,</i>143</div>
<div class="t" style="top:645.58px;font-size:24.3px;line-height:30px;right:365.00px;letter-spacing:-0.300px;">62<i>,</i>801</div>
<div class="t" style="top:676.58px;font-size:24.3px;line-height:30px;left:61.10px;letter-spacing:0.095px;font-weight:bold;">Total</div>
<div class="t" style="top:676.58px;font-size:24.3px;line-height:30px;right:1865.58px;letter-spacing:0.620px;font-weight:bold;">65<i>,</i>065</div>
<div class="t" style="top:676.58px;font-size:24.3px;line-height:30px;right:1740.58px;letter-spacing:0.620px;font-weight:bold;">26<i>,</i>376</div>
<div class="t" style="top:676.58px;font-size:24.3px;line-height:30px;right:1615.58px;letter-spacing:0.620px;font-weight:bold;">28<i>,</i>396</div>
<div class="t" style="top:676.58px;font-size:24.3px;line-height:30px;right:1490.58px;letter-spacing:0.620px;font-weight:bold;">18<i>,</i>170</div>
<div class="t" style="top:676.58px;font-size:24.3px;line-height:30px;right:1365.58px;letter-spacing:0.620px;font-weight:bold;">30<i>,</i>980</div>
<div class="t" style="top:676.58px;font-size:24.3px;line-height:30px;right:1240.58px;letter-spacing:0.620px;font-weight:bold;">37<i>,</i>669</div>
<div class="t" style="top:676.58px;font-size:24.3px;line-height:30px;right:1114.58px;letter-spacing:0.620px;font-weight:bold;">23<i>,</i>385</div>
<div class="t" style="top:676.58px;font-size:24.3px;line-height:30px;right:989.58px;letter-spacing:0.620px;font-weight:bold;">22<i>,</i>306</div>
<div class="t" style="top:676.58px;font-size:24.3px;line-height:30px;right:864.58px;letter-spacing:0.620px;font-weight:bold;">38<i>,</i>819</div>
<div class="t" style="top:676.58px;font-size:24.3px;line-height:30px;right:739.58px;letter-spacing:0.620px;font-weight:bold;">27<i>,</i>158</div>
<div class="t" style="top:676.58px;font-size:24.3px;line-height:30px;right:614.58px;letter-spacing:0.620px;font-weight:bold;">30<i>,</i>987</div>
<div class="t" style="top:676.58px;font-size:24.3px;line-height:30px;right:489.58px;letter-spacing:0.620px;font-weight:bold;">37<i>,</i>877</div>
<div class="t" style="top:676.58px;font-size:24.3px;line-height:30px;right:364.58px;letter-spacing:0.620px;font-weight:bold;">387<i>,</i>188</div>
</div></body></html>
